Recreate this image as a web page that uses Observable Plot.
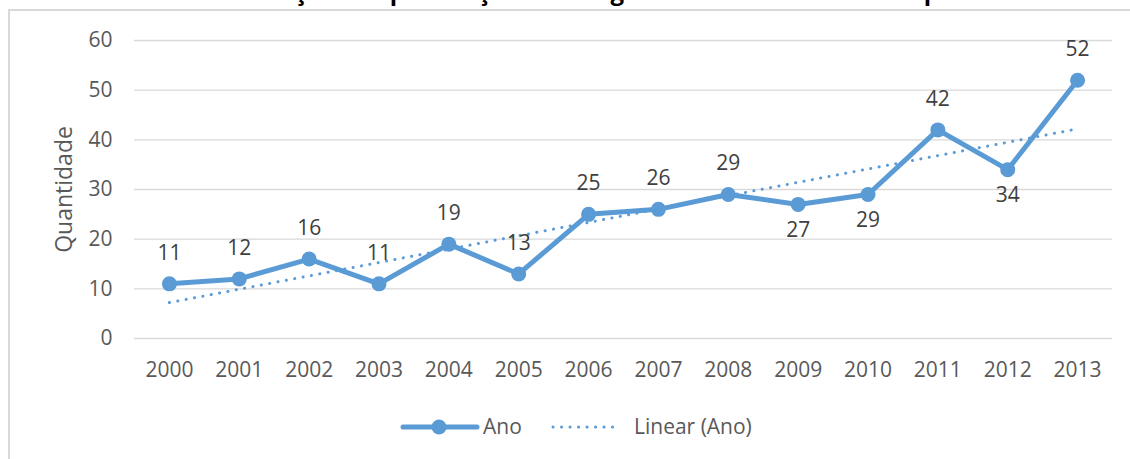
<!DOCTYPE html>
<html>
<head>
<meta charset="utf-8">
<script src="https://cdn.jsdelivr.net/npm/d3@7"></script>
<script src="https://cdn.jsdelivr.net/npm/@observablehq/plot@0.6"></script>
<style>
  body { margin: 0; background: #fff; font-family: "Open Sans", sans-serif; }
  #wrap { position: relative; width: 1130px; height: 459px; overflow: hidden; background: #fff; }
  #title { position: absolute; left: 229px; top: -21px; font-size: 24px; line-height: 24px; font-weight: 700; white-space: nowrap; color: #000; }
  #frame { position: absolute; left: 8px; top: 9px; width: 1130px; height: 460px; border-top: 2px solid #d9d9d9; border-left: 2px solid #d9d9d9; }
  #chart { position: absolute; left: 0; top: 0; }
  .lg { position: absolute; font-size: 21px; color: #595959; line-height: 24px; white-space: nowrap; }
  .sw { position: absolute; }
</style>
</head>
<body>
<div id="wrap">
  <div id="title">Evolução das publicações ao longo dos anos estudados no período</div>
  <div id="frame"></div>
  <div id="chart"></div>
  <svg class="sw" style="left:400px;top:414px" width="80" height="26">
    <line x1="3" x2="77" y1="13" y2="13" stroke="#5B9BD5" stroke-width="5" stroke-linecap="round"></line>
    <circle cx="39" cy="13" r="7.5" fill="#5B9BD5"></circle>
  </svg>
  <div class="lg" id="lg1" style="left:483px;top:414px">Ano</div>
  <svg class="sw" style="left:550px;top:414px" width="75" height="26">
    <line x1="3" x2="70" y1="13" y2="13" stroke="#5B9BD5" stroke-width="3" stroke-dasharray="0.1,8.4" stroke-linecap="round"></line>
  </svg>
  <div class="lg" id="lg2" style="left:634px;top:414px">Linear (Ano)</div>
</div>
<script>
const years = [2000, 2001, 2002, 2003, 2004, 2005, 2006, 2007, 2008, 2009, 2010, 2011, 2012, 2013];
const counts = [11, 12, 16, 11, 19, 13, 25, 26, 29, 27, 29, 42, 34, 52];
const yTicks = [0, 10, 20, 30, 40, 50, 60];
const labelsBelow = [2009, 2010, 2012];
const seriesName = "Ano";
const yTitle = "Quantidade";

const data = years.map((year, i) => ({year, n: counts[i], series: seriesName}));
const blue = "#5B9BD5";

const chart = Plot.plot({
  width: 1130,
  height: 400,
  marginLeft: 134,
  marginRight: 18,
  marginTop: 40,
  marginBottom: 62,
  style: {fontFamily: "'Open Sans', sans-serif", fontSize: "21px", color: "#595959", background: "transparent", overflow: "visible"},
  x: {domain: [1999.5, 2013.5], label: null},
  y: {domain: [0, 60], label: null},
  marks: [
    Plot.gridY(yTicks, {stroke: "#d9d9d9", strokeOpacity: 1, strokeWidth: 1.3}),
    Plot.axisX({ticks: years, tickFormat: d => String(d), tickSize: 0, tickPadding: 24, label: null, fontSize: 21, fill: "#595959"}),
    Plot.axisY({ticks: yTicks, tickSize: 0, tickPadding: 22, label: null, fontSize: 21, fill: "#595959"}),
    Plot.text([yTitle], {frameAnchor: "left", textAnchor: "middle", rotate: -90, dx: -79, lineAnchor: "top", fontSize: 23, fill: "#595959"}),
    Plot.linearRegressionY(data, {x: "year", y: "n", ci: 0, stroke: blue, strokeWidth: 3, strokeDasharray: "0.1,8.4", strokeLinecap: "round"}),
    Plot.line(data, {x: "year", y: "n", stroke: blue, strokeWidth: 5}),
    Plot.dot(data, {x: "year", y: "n", r: 7.5, fill: blue}),
    Plot.text(data, {filter: d => !labelsBelow.includes(d.year), x: "year", y: "n", text: d => String(d.n), dy: -31, fontSize: 21, fill: "#404040"}),
    Plot.text(data, {filter: d => labelsBelow.includes(d.year), x: "year", y: "n", text: d => String(d.n), dy: 26, fontSize: 21, fill: "#404040"})
  ]
});
document.getElementById("chart").appendChild(chart);
</script>
</body>
</html>
